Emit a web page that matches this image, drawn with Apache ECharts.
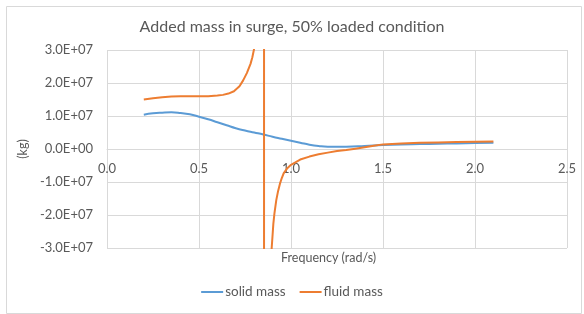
<!DOCTYPE html>
<html>
<head>
<meta charset="utf-8">
<script src="https://cdn.jsdelivr.net/npm/echarts@6/dist/echarts.min.js"></script>
<style>
  html, body { margin: 0; padding: 0; background: #fff; }
  #main { width: 584px; height: 314px; }
</style>
</head>
<body>
<div id="main"></div>
<script>
// 数据：频率 (rad/s) 与附加质量 (kg)
var solidFreq = [0.2, 0.25, 0.3, 0.35, 0.4, 0.45, 0.5, 0.55, 0.6, 0.65, 0.7, 0.75, 0.8, 0.85, 0.9, 0.95,
    1.0, 1.05, 1.1, 1.15, 1.2, 1.25, 1.3, 1.4, 1.5, 1.6, 1.7, 1.8, 1.9, 2.0, 2.1];
var solidMass = [1.04e7, 1.08e7, 1.10e7, 1.11e7, 1.09e7, 1.05e7, 0.98e7, 0.90e7, 0.81e7, 0.72e7, 0.63e7, 0.56e7,
    0.50e7, 0.44e7, 0.37e7, 0.31e7, 0.25e7, 0.19e7, 0.13e7, 0.09e7, 0.07e7, 0.07e7, 0.07e7, 0.09e7, 0.12e7,
    0.14e7, 0.15e7, 0.16e7, 0.17e7, 0.18e7, 0.19e7];

var fluidFreq = [0.2, 0.25, 0.3, 0.35, 0.4, 0.5, 0.55, 0.6, 0.63, 0.66, 0.69, 0.72, 0.74, 0.76, 0.78, 0.79, 0.8, 0.81,
    0.853, 0.854, 0.895, 0.9, 0.904, 0.91, 0.92, 0.93, 0.94, 0.95, 0.96, 0.98, 1.0, 1.05, 1.1, 1.15, 1.2, 1.25,
    1.3, 1.35, 1.4, 1.45, 1.5, 1.6, 1.7, 1.8, 1.9, 2.0, 2.1];
var fluidMass = [1.50e7, 1.54e7, 1.57e7, 1.59e7, 1.60e7, 1.60e7, 1.60e7, 1.62e7, 1.64e7, 1.68e7, 1.75e7, 1.90e7,
    2.08e7, 2.30e7, 2.58e7, 2.78e7, 3.05e7, 3.40e7, 5e8, -5e8, -3.0e7, -2.6e7, -2.27e7, -1.95e7, -1.55e7,
    -1.27e7, -1.05e7, -0.88e7, -0.74e7, -0.58e7, -0.48e7, -0.32e7, -0.23e7, -0.16e7, -0.11e7, -0.06e7,
    -0.03e7, 0.01e7, 0.05e7, 0.10e7, 0.14e7, 0.17e7, 0.19e7, 0.20e7, 0.21e7, 0.22e7, 0.23e7];

var xTicks = [0, 0.5, 1.0, 1.5, 2.0, 2.5];
var yTicks = [-3e7, -2e7, -1e7, 0, 1e7, 2e7, 3e7];

function pairs(xs, ys) {
    var out = [];
    for (var i = 0; i < xs.length; i++) out.push([xs[i], ys[i]]);
    return out;
}

//科学计数法格式化，例如 3.0E+07
function sci(v) {
    if (v == 0) return '0.0E+00';
    var e = Math.floor(Math.log10(Math.abs(v)) + 1e-9);
    var m = v / Math.pow(10, e);
    var es = (e < 0 ? '-' : '+') + (Math.abs(e) < 10 ? '0' : '') + Math.abs(e);
    return m.toFixed(1) + 'E' + es;
}

var txt = '#595959';
var gridColor = '#d9d9d9';
var font = 'Lato';

var myChart = echarts.init(document.getElementById('main'));
myChart.setOption({
    animation: false,
    textStyle: { fontFamily: font },
    title: {
        text: 'Added mass in surge, 50% loaded condition',
        left: 'center',
        top: 14,
        textStyle: { fontFamily: font, fontSize: 16, fontWeight: 'normal', color: txt }
    },
    graphic: [
        {
            type: 'rect', left: 4, top: 4, silent: true,
            shape: { width: 575, height: 307 },
            style: { fill: 'none', stroke: gridColor, lineWidth: 1 }
        },
        {
            type: 'text', left: 281, top: 251, silent: true,
            style: { text: 'Frequency (rad/s)', fill: txt, font: '12.5px Lato' }
        }
    ],
    legend: {
        bottom: 10,
        left: 'center',
        icon: 'rect',
        itemWidth: 22,
        itemHeight: 2,
        itemGap: 14,
        textStyle: { fontFamily: font, fontSize: 13.5, color: txt, padding: [0, 0, 0, -3] },
        data: ['solid mass', 'fluid mass']
    },
    grid: { left: 107, right: 17, top: 50, bottom: 66 },
    xAxis: {
        type: 'value',
        min: xTicks[0],
        max: xTicks[xTicks.length - 1],
        interval: 0.5,
        offset: -99,
        axisLine: { onZero: false, lineStyle: { color: gridColor } },
        axisTick: { show: false },
        axisLabel: {
            color: txt, fontSize: 13, fontFamily: font, margin: 13,
            formatter: function (v) { return v.toFixed(1); }
        },
        splitLine: { show: true, lineStyle: { color: gridColor } }
    },
    yAxis: {
        type: 'value',
        min: yTicks[0],
        max: yTicks[yTicks.length - 1],
        interval: 1e7,
        name: '(kg)',
        nameLocation: 'middle',
        nameGap: 72,
        nameTextStyle: { color: txt, fontSize: 12.5, fontFamily: font },
        axisLine: { show: false },
        axisTick: { show: false },
        axisLabel: { color: txt, fontSize: 13, fontFamily: font, margin: 14, formatter: sci },
        splitLine: { show: true, lineStyle: { color: gridColor } }
    },
    series: [
        {
            name: 'solid mass',
            type: 'line',
            data: pairs(solidFreq, solidMass),
            smooth: true,
            symbol: 'none',
            clip: true,
            lineStyle: { color: '#5B9BD5', width: 2 },
            itemStyle: { color: '#5B9BD5' }
        },
        {
            name: 'fluid mass',
            type: 'line',
            data: pairs(fluidFreq, fluidMass),
            symbol: 'none',
            clip: true,
            lineStyle: { color: '#ED7D31', width: 2 },
            itemStyle: { color: '#ED7D31' }
        }
    ]
});
</script>
</body>
</html>
